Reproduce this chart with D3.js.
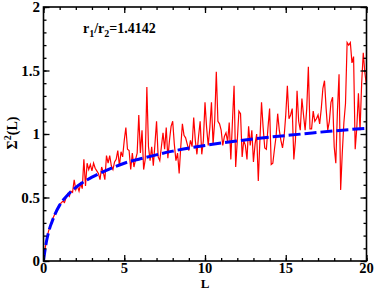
<!DOCTYPE html>
<html><head><meta charset="utf-8">
<script src="https://cdn.jsdelivr.net/npm/d3@7"></script>
<style>body{margin:0;background:#fff}svg{display:block}</style>
</head><body>
<svg id="c" width="374" height="289"></svg>
<script>
const xTicks = [0, 5, 10, 15, 20];
const yTicks = [0, 0.5, 1, 1.5, 2];
const yTickLabels = ["0", "0.5", "1", "1.5", "2"];
const blueL = [0, 0.1, 0.2, 0.3, 0.4, 0.5, 0.7, 1, 1.5, 2, 3, 4, 5, 6, 8, 10, 12, 14, 16, 18, 20];
const blueV = [0, 0.09, 0.165, 0.22, 0.265, 0.30, 0.365, 0.44, 0.52, 0.58, 0.66, 0.72, 0.77, 0.805, 0.865, 0.91, 0.945, 0.975, 1.0, 1.025, 1.045];
const redStep = 0.1;
const redV = [
0,0.10,0.17,0.23,0.27,0.31,0.34,0.37,0.39,0.42,
0.44,0.46,0.47,0.46,0.50,0.53,0.51,0.55,0.54,0.64,
0.56,0.59,0.55,0.61,0.57,0.80,0.59,0.77,0.72,0.76,
0.71,0.77,0.73,0.71,0.69,0.64,0.74,0.70,0.64,0.83,
0.77,0.83,0.75,0.72,0.78,0.80,0.87,0.75,0.86,0.82,
0.95,1.05,0.88,0.87,0.72,0.85,0.74,0.80,0.85,1.15,
0.85,1.03,0.72,0.80,1.37,0.90,0.79,0.90,0.75,0.92,
1.10,0.82,0.79,0.90,1.01,0.88,1.05,0.81,0.95,1.06,
1.10,0.92,0.79,0.85,0.69,0.90,1.08,0.99,0.97,0.92,
0.87,0.95,0.90,1.13,0.95,0.84,0.98,1.10,0.84,0.95,
1.25,1.05,0.91,1.05,1.25,0.92,1.10,1.49,1.10,1.08,
1.03,0.91,0.98,1.01,0.94,1.09,0.80,1.10,1.38,0.74,
0.95,1.18,1.16,0.82,0.95,0.91,0.80,1.06,0.91,1.03,
0.78,0.92,1.00,0.63,0.95,1.25,1.05,0.89,0.88,1.05,
1.20,0.76,0.77,0.88,0.98,1.16,1.03,0.95,0.89,0.98,
1.15,1.38,1.12,1.15,1.20,0.80,0.95,1.34,1.10,1.03,
1.28,1.15,1.03,1.20,1.53,1.04,1.04,1.18,1.10,1.12,
1.15,1.08,1.20,1.36,1.42,1.20,1.03,1.10,1.25,1.29,
0.90,0.77,1.18,1.47,0.56,0.85,1.09,1.24,1.72,1.70,
1.72,1.56,1.61,0.88,1.05,1.32,1.03,1.40,1.64,1.48,
1.38];

const svg = d3.select("#c");
const L = 43.5, R = 366.5, T = 7, B = 261;
const x = d3.scaleLinear().domain([0, 20]).range([L, R]);
const y = d3.scaleLinear().domain([0, 2]).range([B, T]);
const font = "'Liberation Serif','Times New Roman',serif";

svg.append("clipPath").attr("id","pc").append("rect")
  .attr("x", L).attr("y", T).attr("width", R - L).attr("height", B - T);

const g = svg.append("g").attr("clip-path","url(#pc)");
const redData = redV.map((v, i) => [i * redStep, v]);
g.append("path").datum(redData)
  .attr("fill","none").attr("stroke","#ff0000").attr("stroke-width",1.2)
  .attr("d", d3.line().x(d => x(d[0])).y(d => y(d[1])));
const blueData = blueL.map((l, i) => [l, blueV[i]]);
g.append("path").datum(blueData)
  .attr("fill","none").attr("stroke","#0000ff").attr("stroke-width",3)
  .attr("stroke-dasharray","12,4")
  .attr("d", d3.line().curve(d3.curveMonotoneX).x(d => x(d[0])).y(d => y(d[1])));

const ax = svg.append("g");
function addAxis(axis, tr) {
  const a = ax.append("g").attr("transform", tr).call(axis);
  a.select(".domain").remove();
  a.selectAll("line").attr("stroke","#000").attr("stroke-width",1.3);
  return a;
}
const xMinor = d3.range(0, 21, 1);
const yMinor = d3.range(0, 2.01, 0.1);
addAxis(d3.axisTop(x).tickValues(xMinor).tickSize(3).tickFormat(""), `translate(0,${B})`);
addAxis(d3.axisTop(x).tickValues(xTicks).tickSize(6).tickFormat(""), `translate(0,${B})`);
addAxis(d3.axisBottom(x).tickValues(xMinor).tickSize(3).tickFormat(""), `translate(0,${T})`);
addAxis(d3.axisBottom(x).tickValues(xTicks).tickSize(6).tickFormat(""), `translate(0,${T})`);
addAxis(d3.axisRight(y).tickValues(yMinor).tickSize(3).tickFormat(""), `translate(${L},0)`);
addAxis(d3.axisRight(y).tickValues(yTicks).tickSize(6).tickFormat(""), `translate(${L},0)`);
addAxis(d3.axisLeft(y).tickValues(yMinor).tickSize(3).tickFormat(""), `translate(${R},0)`);
addAxis(d3.axisLeft(y).tickValues(yTicks).tickSize(6).tickFormat(""), `translate(${R},0)`);

svg.append("rect").attr("x", L).attr("y", T).attr("width", R - L).attr("height", B - T)
  .attr("fill","none").attr("stroke","#000").attr("stroke-width",1.6);

svg.append("g").selectAll("text").data(xTicks).join("text")
  .attr("x", d => x(d)).attr("y", 272.5).attr("text-anchor","middle")
  .attr("font-family", font).attr("font-weight","bold").attr("font-size",14.5)
  .text(d => d);
svg.append("g").selectAll("text").data(yTicks).join("text")
  .attr("x", 40).attr("y", d => y(d) + 5).attr("text-anchor","end")
  .attr("font-family", font).attr("font-weight","bold").attr("font-size",15)
  .text((d, i) => yTickLabels[i]);

svg.append("text").attr("x", x(10)).attr("y", 287.5).attr("text-anchor","middle")
  .attr("font-family", font).attr("font-weight","bold").attr("font-size",13).text("L");
const yt = svg.append("text").attr("transform","translate(17,133) rotate(-90)")
  .attr("text-anchor","middle")
  .attr("font-family", font).attr("font-weight","bold").attr("font-size",14);
yt.append("tspan").text("Σ");
yt.append("tspan").attr("dy",-6).attr("font-size",10).text("2");
yt.append("tspan").attr("dy",6).text("(L)");

const an = svg.append("text").attr("x", 83).attr("y", 33)
  .attr("font-family", font).attr("font-weight","bold").attr("font-size",14);
an.append("tspan").text("r");
an.append("tspan").attr("dy",4).attr("font-size",10).text("1");
an.append("tspan").attr("dy",-4).text("/r");
an.append("tspan").attr("dy",4).attr("font-size",10).text("2");
an.append("tspan").attr("dy",-4).text("=1.4142");
</script>
</body></html>
